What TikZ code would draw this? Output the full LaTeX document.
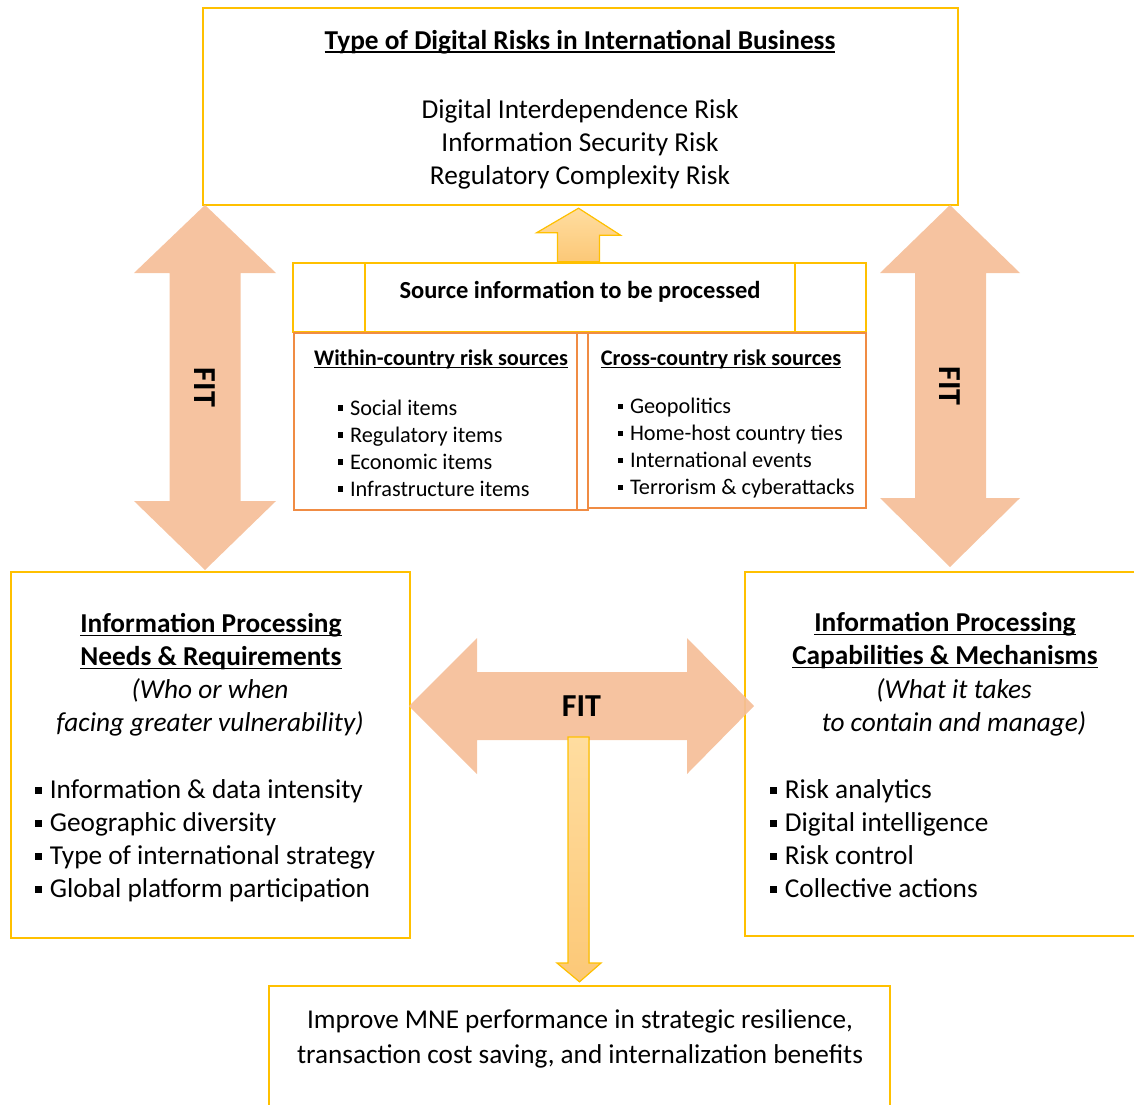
\documentclass[tikz,border=0pt]{standalone}
\usepackage{fontspec}
\setmainfont{Carlito}
\definecolor{FITyellow}{HTML}{FFC000}
\definecolor{FITorange}{HTML}{F08C44}
\definecolor{FITpeach}{HTML}{F5BE98}
\definecolor{FITlight}{HTML}{FFDDA0}
\definecolor{FITdeep}{HTML}{FCC877}
\usetikzlibrary{calc, positioning}
\newsavebox{\hdbox}
\newcommand{\hd}[1]{\sbox{\hdbox}{\textbf{#1}}\rlap{\rule[-0.14em]{\wd\hdbox}{0.065em}}\usebox{\hdbox}}
\newcommand{\sq}{\rule[0.18em]{0.26em}{0.26em}\hspace{0.3em}}

\tikzset{
  ybox/.style={draw=FITyellow, line width=2.4pt, inner sep=0pt},
  obox/.style={draw=FITorange, line width=2pt, inner sep=0pt},
  big/.style={font=\fontsize{27.3}{33}\selectfont},
  bigit/.style={font=\fontsize{27.3}{33}\selectfont\itshape},
  small/.style={font=\fontsize{22.3}{27}\selectfont},
  fitfill/.style={fill=FITpeach, fill opacity=0.92},
  fitlabel/.style={font=\fontsize{32}{36}\selectfont\bfseries},
  flowfill/.style={draw=FITyellow, line width=1.2pt, line join=miter}
}

\begin{document}
\begin{tikzpicture}[x=1pt, y=-1pt]
  \useasboundingbox (0,0) rectangle (1134,1104);
  % boxes
  \node[ybox, minimum width=755pt, minimum height=197pt] (top) at (580.5,106.5) {};
  \node[ybox, minimum width=573pt, minimum height=69pt] (src) at (579.5,297.5) {};
  \draw[ybox] (365,263) -- (365,332);
  \draw[ybox] (795,263) -- (795,332);
  \node[obox, minimum width=294pt, minimum height=177pt] (within) at (441,421.5) {};
  \draw[obox] (577,333) -- (577,510);
  \node[obox, minimum width=278pt, minimum height=175pt] (cross) at (727,420.5) {};
  \node[ybox, minimum width=399pt, minimum height=366pt] (needs) at (210.5,755) {};
  \node[ybox, minimum width=400pt, minimum height=364pt] (caps) at (945,754) {};
  \node[ybox, minimum width=621pt, minimum height=140pt] (result) at (579.5,1056) {};

  % top box text
  \node[big] (risktitle) at (580,42) {\hd{Type of Digital Risks in International Business}};
  \node[big, align=center] (risklist) at (580,144) {Digital Interdependence Risk\\Information Security Risk\\Regulatory Complexity Risk};

  % source information
  \node[font=\fontsize{24.5}{28}\selectfont\bfseries] (srctitle) at (580,292) {Source information to be processed};
  \node[small] (withintitle) at (441,359) {\hd{Within-country risk sources}};
  \node[small, align=left, anchor=west] (withinlist) at (334,448)
     {\sq Social items\\\sq Regulatory items\\\sq Economic items\\\sq Infrastructure items};
  \node[small] (crosstitle) at (721,359) {\hd{Cross-country risk sources}};
  \node[small, align=left, anchor=west] (crosslist) at (614,448)
     {\sq Geopolitics\\\sq Home-host country ties\\\sq International events\\\sq Terrorism \& cyberattacks};

  % needs and capabilities
  \node[big, align=center] (needstitle) at (211,641.5) {\hd{Information Processing}\\\hd{Needs \& Requirements}};
  \node[bigit, align=center] (needsnote) at (210,707.5) {(Who or when\\facing greater vulnerability)};
  \node[big, align=left, anchor=west] (needslist) at (31,841)
     {\sq Information \& data intensity\\\sq Geographic diversity\\\sq Type of international strategy\\\sq Global platform participation};
  \node[big, align=center] (capstitle) at (945,640.5) {\hd{Information Processing}\\\hd{Capabilities \& Mechanisms}};
  \node[bigit, align=center] (capsnote) at (954,707) {(What it takes\\to contain and manage)};
  \node[big, align=left, anchor=west] (capslist) at (766,839)
     {\sq Risk analytics\\\sq Digital intelligence\\\sq Risk control\\\sq Collective actions};

  % outcome
  \node[font=\fontsize{27.2}{35}\selectfont, align=center] (resulttext) at (580,1038.5) {Improve MNE performance in strategic resilience,\\transaction cost saving, and internalization benefits};

  % FIT arrows
  \fill[fitfill] (205,205) -- (276,273) -- (240.5,273) -- (240.5,501) -- (276,501) -- (205,570)
     -- (134,501) -- (169.5,501) -- (169.5,273) -- (134,273) -- cycle;
  \node[fitlabel, rotate=-90] (fitL) at (205,387.5) {FIT};
  \fill[fitfill] (950,205) -- (1020,273) -- (986,273) -- (986,498) -- (1020,498) -- (950,567)
     -- (880,498) -- (915,498) -- (915,273) -- (880,273) -- cycle;
  \node[fitlabel, rotate=-90] (fitR) at (950,386) {FIT};
  \fill[fitfill] (409,706) -- (477,638) -- (477,672) -- (687,672) -- (687,638) -- (754,706)
     -- (687,774) -- (687,740) -- (477,740) -- (477,774) -- cycle;
  \node[fitlabel] (fitH) at (581.5,706) {FIT};

  % flow arrows
  \coordinate (upfoot) at (src.north);
  \coordinate (uptip) at (top.south);
  \filldraw[flowfill, top color=FITlight, bottom color=FITdeep]
     ($(uptip)+(-2,2)$) -- ++(42,27) -- ++(-21,0) -- ($(upfoot)+(20,0)$)
     -- ++(-42,0) -- ++(0,-29) -- ++(-21,0) -- cycle;
  \coordinate (downtip) at ($(result.north)+(0,-3)$);
  \filldraw[flowfill, top color=FITlight, bottom color=FITdeep]
     (568,737) -- (589,737) -- (589,963) -- (601,963) -- (downtip)
     -- (557,963) -- (568,963) -- cycle;
\end{tikzpicture}
\end{document}
